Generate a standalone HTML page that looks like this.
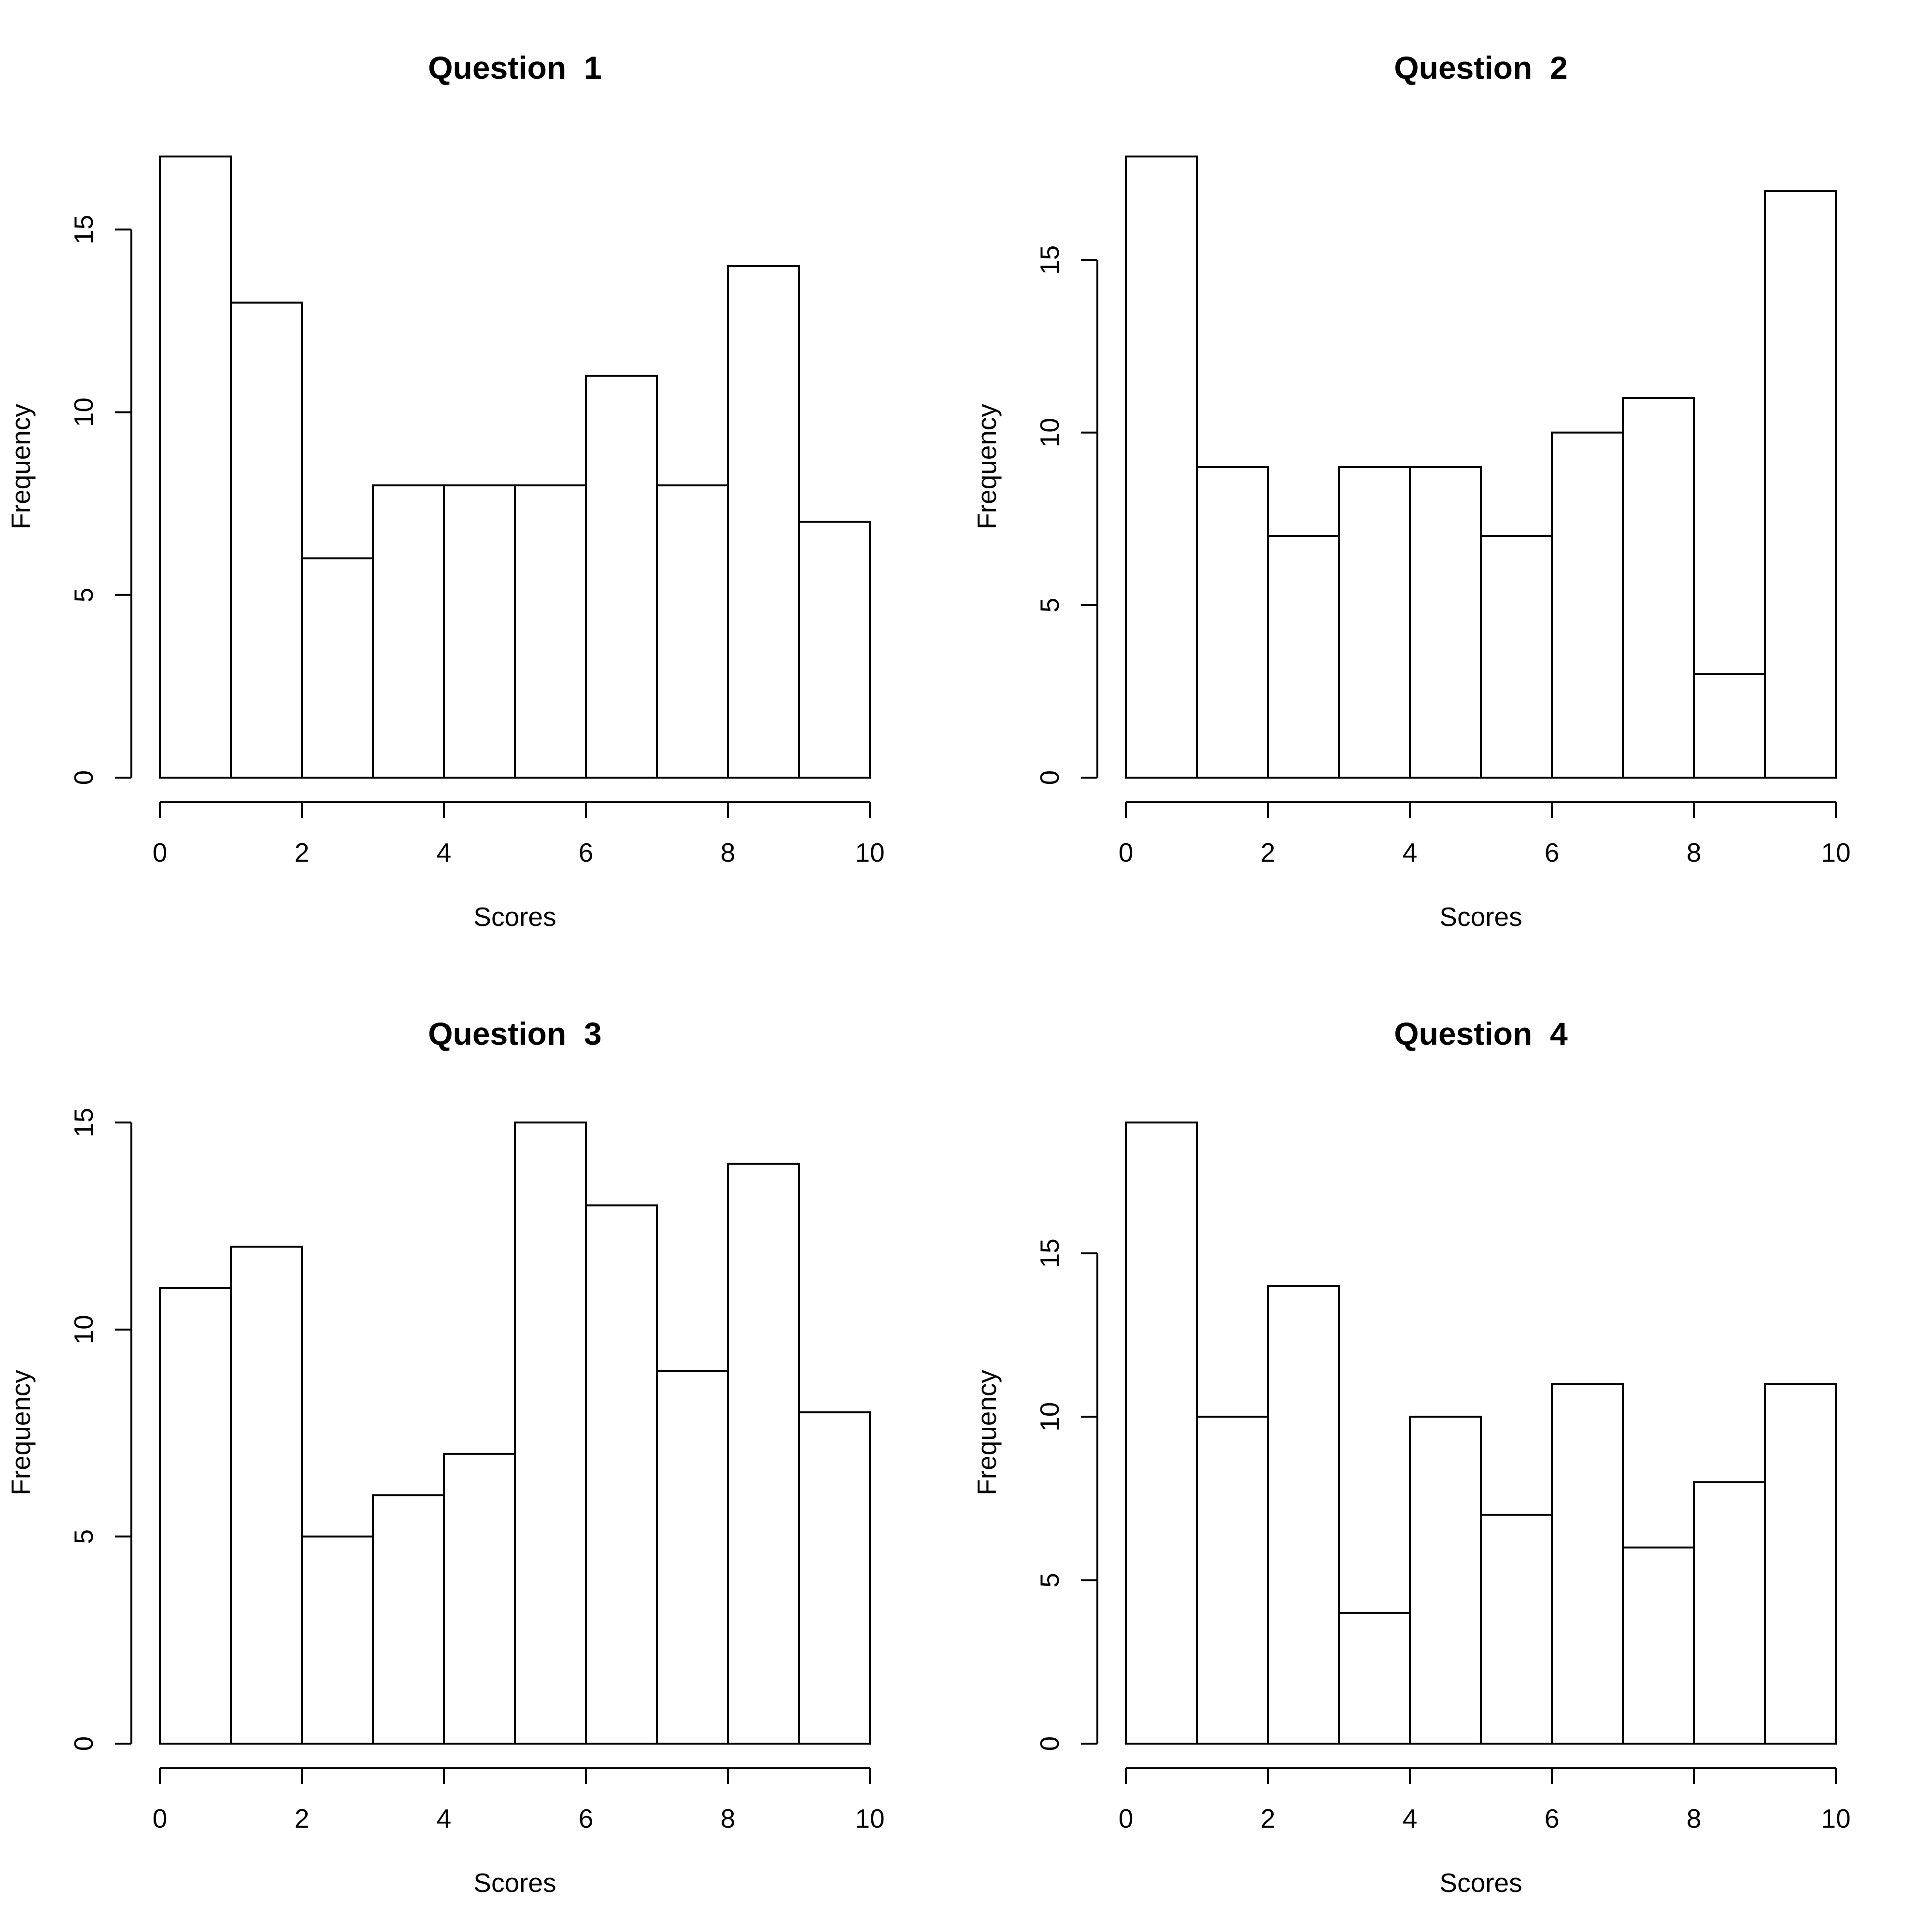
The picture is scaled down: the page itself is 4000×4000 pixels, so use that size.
<!DOCTYPE html>
<html><head><meta charset="utf-8"><style>html,body{margin:0;padding:0;background:#fff}svg{display:block}</style></head><body>
<svg width="4000" height="4000" viewBox="0 0 4000 4000" xmlns="http://www.w3.org/2000/svg" font-family="Liberation Sans, Arial, sans-serif">
<rect width="4000" height="4000" fill="#fff"/>
<defs>
<g id="xax" stroke="#000" stroke-width="4" fill="none">
<line x1="331" y1="1661" x2="1801" y2="1661"/>
<line x1="331" y1="1661" x2="331" y2="1694"/><line x1="625" y1="1661" x2="625" y2="1694"/><line x1="919" y1="1661" x2="919" y2="1694"/><line x1="1213" y1="1661" x2="1213" y2="1694"/><line x1="1507" y1="1661" x2="1507" y2="1694"/><line x1="1801" y1="1661" x2="1801" y2="1694"/>
</g>
</defs>

<!-- Panel 1 -->
<g>
<text x="1066" y="163" font-size="66" font-weight="bold" text-anchor="middle">Question&#160; 1</text>
<g fill="#fff" stroke="#000" stroke-width="4">
<rect x="331" y="324" width="147" height="1286"/>
<rect x="478" y="626.6" width="147" height="983.4"/>
<rect x="625" y="1156.1" width="147" height="453.9"/>
<rect x="772" y="1004.8" width="147" height="605.2"/>
<rect x="919" y="1004.8" width="147" height="605.2"/>
<rect x="1066" y="1004.8" width="147" height="605.2"/>
<rect x="1213" y="777.9" width="147" height="832.1"/>
<rect x="1360" y="1004.8" width="147" height="605.2"/>
<rect x="1507" y="550.9" width="147" height="1059.1"/>
<rect x="1654" y="1080.5" width="147" height="529.5"/>
</g>
<use href="#xax"/>
<g stroke="#000" stroke-width="4">
<line x1="272" y1="1610" x2="272" y2="475.3"/>
<line x1="238" y1="1610" x2="272" y2="1610"/><line x1="238" y1="1231.8" x2="272" y2="1231.8"/><line x1="238" y1="853.5" x2="272" y2="853.5"/><line x1="238" y1="475.3" x2="272" y2="475.3"/>
</g>
<g font-size="55" text-anchor="middle">
<text transform="translate(192,1610) rotate(-90)">0</text>
<text transform="translate(192,1231.8) rotate(-90)">5</text>
<text transform="translate(192,853.5) rotate(-90)">10</text>
<text transform="translate(192,475.3) rotate(-90)">15</text>
<text transform="translate(62,966) rotate(-90)">Frequency</text>
<text x="331" y="1784">0</text><text x="625" y="1784">2</text><text x="919" y="1784">4</text><text x="1213" y="1784">6</text><text x="1507" y="1784">8</text><text x="1801" y="1784">10</text>
<text x="1066" y="1917">Scores</text>
</g>
</g>

<!-- Panel 2 -->
<g transform="translate(2000,0)">
<text x="1066" y="163" font-size="66" font-weight="bold" text-anchor="middle">Question&#160; 2</text>
<g fill="#fff" stroke="#000" stroke-width="4">
<rect x="331" y="324" width="147" height="1286"/>
<rect x="478" y="967" width="147" height="643"/>
<rect x="625" y="1109.9" width="147" height="500.1"/>
<rect x="772" y="967" width="147" height="643"/>
<rect x="919" y="967" width="147" height="643"/>
<rect x="1066" y="1109.9" width="147" height="500.1"/>
<rect x="1213" y="895.6" width="147" height="714.4"/>
<rect x="1360" y="824.1" width="147" height="785.9"/>
<rect x="1507" y="1395.7" width="147" height="214.3"/>
<rect x="1654" y="395.4" width="147" height="1214.6"/>
</g>
<use href="#xax"/>
<g stroke="#000" stroke-width="4">
<line x1="272" y1="1610" x2="272" y2="538.3"/>
<line x1="238" y1="1610" x2="272" y2="1610"/><line x1="238" y1="1252.8" x2="272" y2="1252.8"/><line x1="238" y1="895.6" x2="272" y2="895.6"/><line x1="238" y1="538.3" x2="272" y2="538.3"/>
</g>
<g font-size="55" text-anchor="middle">
<text transform="translate(192,1610) rotate(-90)">0</text>
<text transform="translate(192,1252.8) rotate(-90)">5</text>
<text transform="translate(192,895.6) rotate(-90)">10</text>
<text transform="translate(192,538.3) rotate(-90)">15</text>
<text transform="translate(62,966) rotate(-90)">Frequency</text>
<text x="331" y="1784">0</text><text x="625" y="1784">2</text><text x="919" y="1784">4</text><text x="1213" y="1784">6</text><text x="1507" y="1784">8</text><text x="1801" y="1784">10</text>
<text x="1066" y="1917">Scores</text>
</g>
</g>

<!-- Panel 3 -->
<g transform="translate(0,2000)">
<text x="1066" y="163" font-size="66" font-weight="bold" text-anchor="middle">Question&#160; 3</text>
<g fill="#fff" stroke="#000" stroke-width="4">
<rect x="331" y="666.9" width="147" height="943.1"/>
<rect x="478" y="581.2" width="147" height="1028.8"/>
<rect x="625" y="1181.3" width="147" height="428.7"/>
<rect x="772" y="1095.6" width="147" height="514.4"/>
<rect x="919" y="1009.9" width="147" height="600.1"/>
<rect x="1066" y="324" width="147" height="1286"/>
<rect x="1213" y="495.5" width="147" height="1114.5"/>
<rect x="1360" y="838.4" width="147" height="771.6"/>
<rect x="1507" y="409.7" width="147" height="1200.3"/>
<rect x="1654" y="924.1" width="147" height="685.9"/>
</g>
<use href="#xax"/>
<g stroke="#000" stroke-width="4">
<line x1="272" y1="1610" x2="272" y2="324"/>
<line x1="238" y1="1610" x2="272" y2="1610"/><line x1="238" y1="1181.3" x2="272" y2="1181.3"/><line x1="238" y1="752.7" x2="272" y2="752.7"/><line x1="238" y1="324" x2="272" y2="324"/>
</g>
<g font-size="55" text-anchor="middle">
<text transform="translate(192,1610) rotate(-90)">0</text>
<text transform="translate(192,1181.3) rotate(-90)">5</text>
<text transform="translate(192,752.7) rotate(-90)">10</text>
<text transform="translate(192,324) rotate(-90)">15</text>
<text transform="translate(62,966) rotate(-90)">Frequency</text>
<text x="331" y="1784">0</text><text x="625" y="1784">2</text><text x="919" y="1784">4</text><text x="1213" y="1784">6</text><text x="1507" y="1784">8</text><text x="1801" y="1784">10</text>
<text x="1066" y="1917">Scores</text>
</g>
</g>

<!-- Panel 4 -->
<g transform="translate(2000,2000)">
<text x="1066" y="163" font-size="66" font-weight="bold" text-anchor="middle">Question&#160; 4</text>
<g fill="#fff" stroke="#000" stroke-width="4">
<rect x="331" y="324" width="147" height="1286"/>
<rect x="478" y="933.2" width="147" height="676.8"/>
<rect x="625" y="662.4" width="147" height="947.6"/>
<rect x="772" y="1339.3" width="147" height="270.7"/>
<rect x="919" y="933.2" width="147" height="676.8"/>
<rect x="1066" y="1136.2" width="147" height="473.8"/>
<rect x="1213" y="865.5" width="147" height="744.5"/>
<rect x="1360" y="1203.9" width="147" height="406.1"/>
<rect x="1507" y="1068.5" width="147" height="541.5"/>
<rect x="1654" y="865.5" width="147" height="744.5"/>
</g>
<use href="#xax"/>
<g stroke="#000" stroke-width="4">
<line x1="272" y1="1610" x2="272" y2="594.7"/>
<line x1="238" y1="1610" x2="272" y2="1610"/><line x1="238" y1="1271.6" x2="272" y2="1271.6"/><line x1="238" y1="933.2" x2="272" y2="933.2"/><line x1="238" y1="594.7" x2="272" y2="594.7"/>
</g>
<g font-size="55" text-anchor="middle">
<text transform="translate(192,1610) rotate(-90)">0</text>
<text transform="translate(192,1271.6) rotate(-90)">5</text>
<text transform="translate(192,933.2) rotate(-90)">10</text>
<text transform="translate(192,594.7) rotate(-90)">15</text>
<text transform="translate(62,966) rotate(-90)">Frequency</text>
<text x="331" y="1784">0</text><text x="625" y="1784">2</text><text x="919" y="1784">4</text><text x="1213" y="1784">6</text><text x="1507" y="1784">8</text><text x="1801" y="1784">10</text>
<text x="1066" y="1917">Scores</text>
</g>
</g>
</svg>
</body></html>
